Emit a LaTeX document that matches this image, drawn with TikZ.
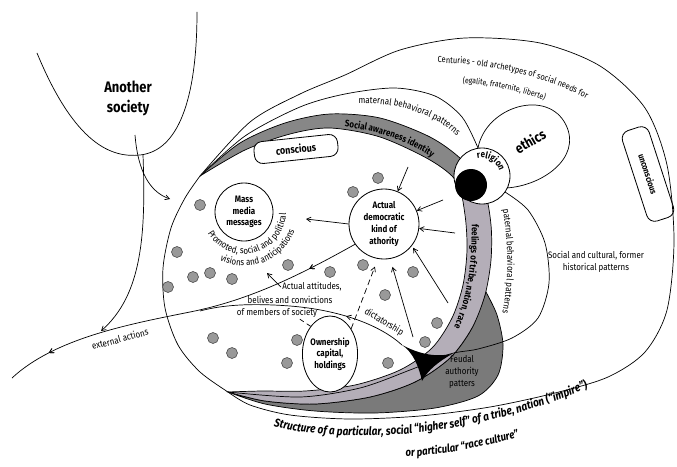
\documentclass[tikz,border=0pt]{standalone}
\usepackage{fontspec}
\setmainfont{Fira Sans}[FakeStretch=0.85]
\usetikzlibrary{arrows}
\usetikzlibrary{decorations.markings,decorations.text}
\usetikzlibrary{shapes.geometric}
\tikzset{->-/.style={decoration={
  markings,
  mark=at position #1 with {\arrow{>}}},postaction={decorate}}}
\newcommand{\lbl}{\fontsize{8}{10}\selectfont}
\definecolor{bandtop}{gray}{0.53}
\definecolor{bandlow}{RGB}{180,174,184}
\definecolor{feudal}{gray}{0.48}
\tikzset{
  along/.style={decoration={text along path,text align=center,text={#1}},decorate},
  dot/.style={draw=black!70,fill=black!40,line width=0.5pt},
  bubble/.style={circle,draw,line width=0.7pt,align=center,inner sep=0pt,font=\lbl\bfseries},
  tag/.style={draw,rounded corners=2.5mm,line width=0.7pt,align=center,inner sep=1pt},
  lbl/.style={font=\lbl,align=center,inner sep=1pt}
}

\begin{document}
\begin{tikzpicture}[x=0.3mm,y=-0.3mm,>=angle 60,line width=0.6pt]
\useasboundingbox (0,0) rectangle (677,466);

% another society
\draw (37,53) .. controls (75,145) and (112,158) .. (140,155)
  .. controls (178,151) and (197,100) .. (197,12);
\node[font=\fontsize{13}{17}\selectfont\bfseries,align=center] (soc) at (128,98) {Another\\society};

% outer egg and maternal lobe
\draw plot[smooth] coordinates {(200,176) (250,122) (300,94) (345,75) (400,50) (465,38) (540,43) (600,66) (645,108) (667,165) (674,240) (667,310) (645,352) (608,377) (555,393) (490,407) (420,416) (350,419) (290,415) (250,405) (228,392)};
\draw plot[smooth] coordinates {(200,176) (245,136) (300,107) (345,94) (395,88) (435,96) (462,117) (478,148)};

% feudal patterns
\filldraw[fill=feudal] plot[smooth] coordinates {(486,292) (497,315) (503,345) (498,375) (478,396) (435,408) (375,413) (315,411) (265,404) (228,392)}
  -- plot[smooth] coordinates {(228,392) (265,401) (315,404) (370,397) (415,382) (450,358) (472,328) (486,292)} -- cycle;

% identity band
\path[save path=\bandpath] plot[smooth] coordinates {(200,176) (240,143) (285,123) (330,114) (380,118) (430,137) (462,160) (484,190) (491,225) (491,260) (485,295) (472,328) (450,358) (415,382) (370,397) (315,404) (265,401) (228,392)}
  -- plot[smooth] coordinates {(228,392) (262,391) (305,391) (355,385) (400,370) (432,348) (452,318) (463,285) (467,250) (465,215) (457,182) (430,160) (380,137) (330,128) (290,134) (245,150) (200,176)} -- cycle;
\fill[bandlow,use path=\bandpath];
\begin{scope}
  \clip (-10,-10) -- (700,-10) -- (700,51) -- (482,176) -- (0,445) -- (-10,445) -- cycle;
  \fill[bandtop,use path=\bandpath];
\end{scope}
\draw[use path=\bandpath];

% society
\draw plot[smooth] coordinates {(228,392) (200,372) (178,345) (165,308) (163,268) (171,228) (185,198) (200,176)};
\draw plot[smooth] coordinates {(505,192) (528,210) (545,243) (549,283) (538,318) (512,338) (478,349) (450,354) (410,370) (360,388) (300,397) (228,392)};

% ethics and religion
\draw (478,148) .. controls (486,106) and (548,88) .. (566,125)
  .. controls (582,158) and (542,186) .. (506,188);
\node[font=\fontsize{12}{14}\selectfont\bfseries,rotate=30] (eth) at (530,141) {ethics};
\node[circle,draw,fill=white,line width=0.7pt,minimum size=16.8mm,inner sep=0pt] (rel) at (482,176) {};
\fill (471,185) circle[radius=16];
\path[along={|\lbl\bfseries|religion}] (rel.center) ++(-135:18) arc[start angle=-135,end angle=15,radius=18];

% dictatorship wedge
\coordinate (wA) at (402,345);
\fill (wA) .. controls (425,357) and (440,356) .. (452,354)
  .. controls (438,362) and (428,370) .. (422,381)
  .. controls (419,367) and (413,352) .. (wA);

% members of society
\foreach \x/\y in {200/205, 177/252, 168/287, 193/277, 210/273, 232/279, 288/265, 330/272, 363/265, 413/272,
  353/192, 378/178, 385/295, 437/323, 425/342, 213/338, 232/353, 297/340, 287/363, 388/363}
  \draw[dot] (\x,\y) circle[radius=5.5];

\node[bubble,minimum size=17.4mm] (mm) at (244,212) {Mass\\media\\messages};
\node[bubble,minimum size=21mm] (adk) at (384,224) {Actual\\democratic\\kind of\\athority};
\node[ellipse,draw,fill=white,line width=0.7pt,minimum width=16.2mm,minimum height=22.8mm,inner sep=0pt,align=center,font=\lbl\bfseries] (own) at (330,354) {Ownership\\capital,\\holdings};
\node[tag,fill=white,minimum width=25.2mm,minimum height=6.6mm,rotate=6,font=\fontsize{9}{10}\selectfont\bfseries] (cons) at (296,149) {conscious};
\node[tag,minimum width=28.5mm,minimum height=8.4mm,rotate=-72,font=\fontsize{7.5}{9}\selectfont\bfseries] (uncons) at (648,174) {unconscious};
\node[lbl] (scf) at (596,262) {Social and cultural, former\\historical patterns};
\node[lbl] (feud) at (462,372) {Feudal\\authority\\patters};
\node[lbl] (att1) at (312,287) {Actual attitudes,};
\node[lbl] (att2) at (290,300) {belives and convictions};
\node[lbl] (att3) at (277,313) {of members of society};
\node[lbl,rotate=15] (ext) at (120,339) {external actions};
\node[lbl,rotate=-31] (dict) at (384,322) {dictatorship};

% influences
\coordinate (a1) at (408,167);
\coordinate (a2) at (443,200);
\coordinate (a3) at (455,233);
\coordinate (a4) at (448,303);
\coordinate (a5) at (413,337);
\coordinate (mmarr) at (306,219);
\coordinate (promarr) at (267,273);
\coordinate (attlink) at (298,318);
\coordinate (socout) at (135,135);
\coordinate (socbot) at (143,155);
\coordinate (entry) at (170,199);
\coordinate (extend) at (12,378);
\draw[->] (a1) -- (adk);
\draw[->] (a2) -- (adk);
\draw[->] (a3) -- (adk);
\draw[->,shorten >=2pt] (a4) -- (adk.-38);
\draw[->,shorten >=2.5mm] (a5) -- (adk.-80);
\draw[->,dash pattern=on 5pt off 3pt,shorten >=2.5mm] (own.50) -- (adk.-100);
\draw[dash pattern=on 4pt off 3pt] (own.125) -- (attlink);
\draw[->] (adk.west) -- (mmarr);
\draw[->] (att1.west) -- (promarr);
\draw[->] (socout) .. controls (138,172) and (150,192) .. (entry);
\draw[->] (socbot) .. controls (146,235) and (142,295) .. (101,331);
\draw[->-=0.14,->-=0.88] (adk.-145) .. controls (300,275) and (250,300) .. (190,312)
  .. controls (130,324) and (55,338) .. (extend);
\draw[->-=0.3] (wA) .. controls (380,325) and (340,310) .. (290,306)
  .. controls (250,303) and (222,305) .. (200,311);

% curved texts
\path[along={|\lbl|Promoted, social and political}] (mm.center) ++(-188:42) arc[start angle=-188,end angle=-380,radius=42];
\path[along={|\lbl|visions and anticipations}] (mm.center) ++(-226:54) arc[start angle=-226,end angle=-357,radius=54];
\path[along={|\lbl\bfseries|Social awareness identity}] (318,126) .. controls (360,124) and (420,140) .. (452,175);
\path[along={|\lbl\bfseries|feelings of tribe, nation, race}] (471,192) .. controls (474,260) and (470,310) .. (438,355);
\path[along={|\lbl|paternal behavioral patterns}] (500,192) .. controls (510,245) and (510,290) .. (498,330);
\path[along={|\lbl|maternal behavioral patterns}] (345,104) .. controls (390,100) and (440,112) .. (466,146);
\path[along={|\fontsize{7.5}{8}\selectfont|Centuries - old archetypes of social needs for}] (412,64) .. controls (480,58) and (560,78) .. (608,112);
\path[along={|\fontsize{7}{8}\selectfont|(egalite, fraternite, liberte)}] (440,82) .. controls (490,83) and (535,93) .. (565,110);
\path[along={|\fontsize{10}{11}\selectfont\bfseries\itshape|Structure of a particular, social “higher self” of a tribe, nation (“impire”)}] (238,414) .. controls (320,452) and (485,442) .. (622,372);
\path[along={|\fontsize{9.5}{10}\selectfont\bfseries\itshape|or particular “race culture”}] (382,458) .. controls (430,457) and (490,448) .. (542,430);
\end{tikzpicture}
\end{document}
